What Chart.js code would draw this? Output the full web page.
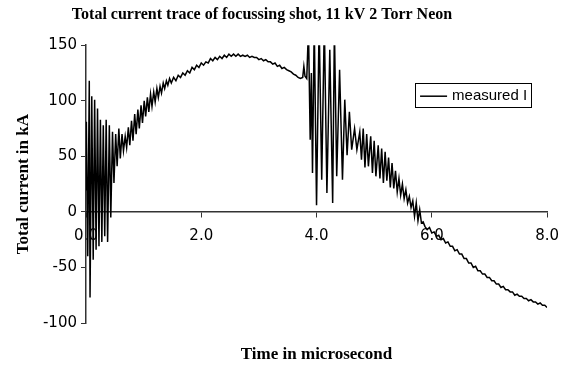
<!DOCTYPE html>
<html>
<head>
<meta charset="utf-8">
<script src="https://cdn.jsdelivr.net/npm/chart.js@4/dist/chart.umd.min.js"></script>
<style>
  html, body { margin: 0; padding: 0; background: #fff; }
  #wrap { width: 569px; height: 366px; }
</style>
</head>
<body>
<div id="wrap"><canvas id="traceChart"></canvas></div>
<script>
// values (time in microsecond, current in kA)
const timeUs = [
  0.000, 0.006, 0.030, 0.057, 0.070, 0.100, 0.125, 0.150, 0.175, 0.200,
  0.225, 0.250, 0.275, 0.300, 0.325, 0.350, 0.375, 0.405, 0.430, 0.460,
  0.485, 0.515, 0.540, 0.570, 0.595, 0.625, 0.650,
  0.680, 0.705, 0.735, 0.760, 0.790, 0.815, 0.845, 0.870, 0.900, 0.925,
  0.955, 0.980, 1.010, 1.035, 1.065, 1.090, 1.120, 1.145, 1.175, 1.200,
  1.230, 1.255, 1.285, 1.310, 1.340, 1.365, 1.395, 1.420, 1.450,
  1.48, 1.52, 1.56, 1.60, 1.64, 1.68, 1.72, 1.76, 1.80, 1.84, 1.88, 1.92,
  1.96, 2.00, 2.04, 2.08, 2.12, 2.16, 2.20, 2.24, 2.28, 2.32, 2.36, 2.40,
  2.44, 2.48, 2.52, 2.56, 2.60, 2.64, 2.68, 2.72, 2.76, 2.80, 2.84, 2.88,
  2.92, 2.96, 3.00, 3.04, 3.08, 3.12, 3.16, 3.20, 3.24, 3.28, 3.32, 3.36,
  3.40, 3.44, 3.48, 3.52, 3.56, 3.60, 3.64, 3.68, 3.72, 3.76, 3.78, 3.80,
  3.83,
  3.86, 3.89, 3.91, 3.93, 3.96, 4.00, 4.045, 4.09, 4.135, 4.18, 4.23, 4.28,
  4.31, 4.35, 4.40, 4.45, 4.49, 4.53, 4.57, 4.61, 4.66, 4.70, 4.75, 4.78,
  4.81, 4.84, 4.87, 4.90, 4.94, 4.97, 5.00, 5.03, 5.07, 5.10, 5.13, 5.16,
  5.19, 5.22, 5.25, 5.28, 5.31, 5.34, 5.37, 5.40, 5.43, 5.46, 5.49, 5.52,
  5.55, 5.58, 5.61, 5.64, 5.67, 5.70, 5.73, 5.76, 5.79, 5.82, 5.85,
  5.88, 5.92, 5.96, 6.00, 6.04, 6.08, 6.12, 6.16, 6.20, 6.24, 6.28, 6.32,
  6.36, 6.40, 6.44, 6.48, 6.52, 6.56, 6.60, 6.64, 6.68, 6.72, 6.76, 6.80,
  6.84, 6.88, 6.92, 6.96, 7.00, 7.04, 7.08, 7.12, 7.16, 7.20, 7.24, 7.28,
  7.32, 7.36, 7.40, 7.44, 7.48, 7.52, 7.56, 7.60, 7.64, 7.68, 7.72, 7.76,
  7.80, 7.84, 7.88, 7.92, 7.96, 8.00
];

const currentKA = [
  20, 81, -40, 118, -77, 104, -43, 101, -34, 93,
  -31, 83, -27, 78, -22, 83, -27, 78, -5, 72,
  26, 70, 41, 75, 48, 70, 55,
  68, 58, 76, 60, 82, 64, 88, 70, 92, 75,
  96, 80, 100, 86, 103, 90, 106, 95, 108, 99,
  111, 103, 113, 107, 116, 111, 118, 114, 120,
  116, 121, 118, 123, 121, 125, 123, 127, 125, 130, 128, 132,
  130, 134, 132, 135, 134, 138, 136, 139, 137, 140, 138, 141,
  139, 142, 140, 142, 140, 142, 140, 141, 140, 141, 139, 140,
  139, 139, 137, 138, 136, 137, 135, 135, 133, 134, 131, 132,
  129, 130, 128, 127, 126, 124, 123, 121, 120, 121, 131, 122,
  120,
  165, 65, 125, 35, 170, 6, 170, 29, 170, 17, 146, 8,
  165, 32, 128, 29, 101, 51, 90, 56, 75, 56, 72, 47,
  75, 40, 70, 41, 68, 35, 64, 32, 60, 30, 57, 26,
  54, 28, 49, 22, 44, 21, 37, 18, 30, 15, 25, 12,
  20, 8, 14, 4, 10, -4, 8, -8, 2, -10, -9,
  -13, -16, -14, -19, -18, -22, -21, -25, -24, -28, -27, -31,
  -31, -35, -34, -38, -38, -42, -42, -46, -46, -50, -49, -53,
  -53, -56, -56, -59, -59, -62, -62, -65, -65, -68, -67, -70,
  -70, -72, -72, -75, -74, -76, -76, -78, -78, -80, -79, -81,
  -81, -83, -82, -84, -84, -86
];

const yTicks = [-100, -50, 0, 50, 100, 150];
const xTicks = [0, 2, 4, 6, 8];
const seriesLabel = "measured I";

const points = timeUs.map((t, i) => ({ x: t, y: currentKA[i] }));

// boxed legend inside the plot, like the spreadsheet original
const boxLegend = {
  id: "boxLegend",
  afterDraw(chart) {
    const { ctx, chartArea } = chart;
    const left = chartArea.right - 132;
    const top = chartArea.top + 38;
    ctx.save();
    ctx.strokeStyle = "#000";
    ctx.lineWidth = 1;
    ctx.strokeRect(Math.round(left) + 0.5, Math.round(top) + 0.5, 116, 24);
    ctx.beginPath();
    ctx.moveTo(left + 5, top + 13);
    ctx.lineTo(left + 32, top + 13);
    ctx.lineWidth = 1.5;
    ctx.stroke();
    ctx.fillStyle = "#000";
    ctx.font = "15px 'Liberation Sans', Arial, sans-serif";
    ctx.textBaseline = "middle";
    ctx.fillText(chart.data.datasets[0].label, left + 37, top + 13);
    ctx.restore();
  },
};

const serif = "'Liberation Serif', 'Times New Roman', serif";
const sans = "'DejaVu Sans', sans-serif";

new Chart(document.getElementById("traceChart"), {
  type: "line",
  data: {
    datasets: [
      {
        label: seriesLabel,
        data: points,
        borderColor: "#000",
        borderWidth: 1.5,
        pointRadius: 0,
        tension: 0,
        fill: false,
      },
    ],
  },
  options: {
    responsive: true,
    maintainAspectRatio: false,
    animation: false,
    devicePixelRatio: 1,
    layout: { padding: { left: -26, right: 19, top: 0, bottom: 43 } },
    plugins: {
      legend: { display: false },
      tooltip: { enabled: false },
      title: {
        display: true,
        text: "Total current trace of focussing shot, 11 kV 2 Torr Neon",
        color: "#000",
        font: { family: serif, size: 16, weight: "bold" },
        padding: { top: 5, bottom: 21 },
      },
    },
    scales: {
      x: {
        type: "linear",
        position: { y: 0 },
        min: 0,
        max: 8,
        afterBuildTicks: (scale) => {
          scale.ticks = xTicks.map((v) => ({ value: v }));
        },
        ticks: {
          color: "#000",
          font: { family: sans, size: 15 },
          padding: 10,
          maxRotation: 0,
          callback: (v) => Number(v).toFixed(1),
        },
        grid: { display: true, drawOnChartArea: false, tickLength: 5, color: "#333" },
        border: { display: true, color: "#333", width: 1.5 },
        title: {
          display: true,
          text: "Time in microsecond",
          color: "#000",
          font: { family: serif, size: 17, weight: "bold" },
          padding: { top: 90, bottom: 0 },
        },
      },
      y: {
        min: -100,
        max: 150,
        afterBuildTicks: (scale) => {
          scale.ticks = yTicks.map((v) => ({ value: v }));
        },
        afterFit: (scale) => {
          scale.width = 112;
        },
        ticks: {
          color: "#000",
          font: { family: sans, size: 15 },
          padding: 4,
        },
        grid: { display: true, drawOnChartArea: false, tickLength: 5, color: "#333" },
        border: { display: true, color: "#333", width: 1.5 },
        title: {
          display: true,
          text: "Total current in kA",
          color: "#000",
          font: { family: serif, size: 17, weight: "bold" },
          padding: { top: 39, bottom: 0 },
        },
      },
    },
  },
  plugins: [boxLegend],
});
</script>
</body>
</html>
